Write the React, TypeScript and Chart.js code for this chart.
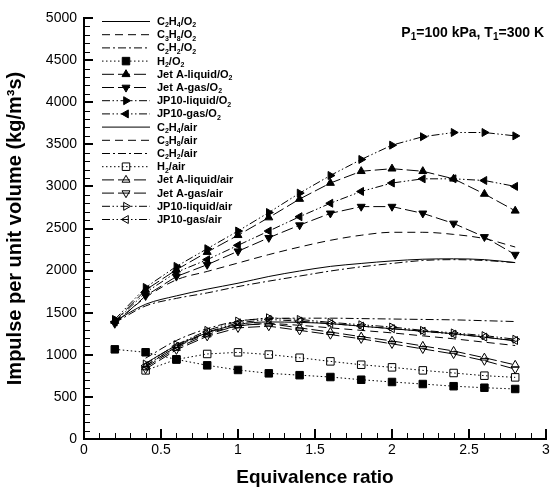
import React, { useEffect, useRef } from 'react';
import { Chart, registerables } from 'chart.js';

Chart.register(...registerables);

const FONT = '"Liberation Sans", Arial, Helvetica, sans-serif';

// Equivalence ratios
const phiO2 = [0.2, 0.4, 0.6, 0.8, 1.0, 1.2, 1.4, 1.6, 1.8, 2.0, 2.2, 2.4, 2.6, 2.8];
const phiAir = [0.4, 0.6, 0.8, 1.0, 1.2, 1.4, 1.6, 1.8, 2.0, 2.2, 2.4, 2.6, 2.8];

// Oxygen mixtures (kg/m^2 s)
const c2h4O2 = [1400, 1600, 1700, 1780, 1850, 1930, 1995, 2050, 2085, 2115, 2135, 2140, 2130, 2095];
const c3h8O2 = [1380, 1680, 1890, 1990, 2090, 2190, 2280, 2360, 2420, 2455, 2455, 2430, 2380, 2280];
const c2h2O2 = [1380, 1580, 1670, 1735, 1810, 1875, 1935, 1995, 2045, 2085, 2120, 2130, 2120, 2095];
const h2O2 = [1065, 1030, 945, 875, 820, 780, 758, 736, 704, 677, 653, 627, 609, 594];
const jetALiqO2 = [1400, 1770, 2010, 2220, 2420, 2630, 2850, 3040, 3180, 3210, 3180, 3090, 2910, 2710];
const jetAGasO2 = [1370, 1700, 1930, 2070, 2230, 2390, 2540, 2680, 2760, 2760, 2680, 2560, 2400, 2190];
const jp10LiqO2 = [1420, 1800, 2050, 2260, 2470, 2690, 2920, 3130, 3320, 3490, 3590, 3640, 3640, 3600];
const jp10GasO2 = [1390, 1740, 1980, 2130, 2300, 2470, 2640, 2800, 2940, 3040, 3090, 3090, 3070, 3000];

// Air mixtures
const c2h4Air = [900, 1110, 1260, 1360, 1390, 1385, 1370, 1340, 1310, 1280, 1250, 1210, 1165];
const c3h8Air = [870, 1090, 1250, 1340, 1370, 1350, 1320, 1290, 1260, 1225, 1190, 1150, 1110];
const c2h2Air = [960, 1170, 1310, 1400, 1430, 1435, 1435, 1430, 1425, 1420, 1415, 1405, 1395];
const h2Air = [815, 945, 1010, 1029, 1003, 965, 922, 882, 851, 815, 784, 752, 732];
const jetALiqAir = [850, 1080, 1240, 1350, 1370, 1320, 1270, 1215, 1165, 1105, 1045, 965, 880];
const jetAGasAir = [830, 1060, 1220, 1320, 1340, 1290, 1240, 1190, 1130, 1070, 1010, 930, 830];
const jp10LiqAir = [890, 1120, 1290, 1400, 1440, 1420, 1385, 1357, 1330, 1290, 1260, 1228, 1185];
const jp10GasAir = [870, 1100, 1270, 1380, 1420, 1400, 1370, 1340, 1310, 1280, 1245, 1210, 1170];

const seriesLabels = [
  'C₂H₄/O₂', 'C₃H₈/O₂', 'C₂H₂/O₂', 'H₂/O₂',
  'Jet A-liquid/O₂', 'Jet A-gas/O₂', 'JP10-liquid/O₂', 'JP10-gas/O₂',
  'C₂H₄/air', 'C₃H₈/air', 'C₂H₂/air', 'H₂/air',
  'Jet A-liquid/air', 'Jet A-gas/air', 'JP10-liquid/air', 'JP10-gas/air',
];
const seriesValues = [
  c2h4O2, c3h8O2, c2h2O2, h2O2, jetALiqO2, jetAGasO2, jp10LiqO2, jp10GasO2,
  c2h4Air, c3h8Air, c2h2Air, h2Air, jetALiqAir, jetAGasAir, jp10LiqAir, jp10GasAir,
];
const seriesX = [
  phiO2, phiO2, phiO2, phiO2, phiO2, phiO2, phiO2, phiO2,
  phiAir, phiAir, phiAir, phiAir, phiAir, phiAir, phiAir, phiAir,
];

const xTickValues = [0, 0.5, 1, 1.5, 2, 2.5, 3];
const yTickValues = [0, 500, 1000, 1500, 2000, 2500, 3000, 3500, 4000, 4500, 5000];

const titleX = 'Equivalence ratio';
const titleY = 'Impulse per unit volume (kg/m³s)';
const annotation = 'P₁=100 kPa, T₁=300 K';

// ---- styles (kept apart from data) ----
const SOLID: number[] = [];
const DASH = [8, 5];
const DASHDOT = [8, 3, 2, 3];
const DOT = [1.5, 2.5];
const LONGDASH = [12, 4];
const DASHDOTDOT = [8, 2.5, 1.5, 2.5, 1.5, 2.5];

type Style = { dash: number[]; marker: string | null; rot: number; r: number; filled: boolean };
const baseStyles: Style[] = [
  { dash: SOLID, marker: null, rot: 0, r: 0, filled: true },
  { dash: DASH, marker: null, rot: 0, r: 0, filled: true },
  { dash: DASHDOT, marker: null, rot: 0, r: 0, filled: true },
  { dash: DOT, marker: 'rect', rot: 0, r: 5.3, filled: true },
  { dash: LONGDASH, marker: 'triangle', rot: 0, r: 4.6, filled: true },
  { dash: LONGDASH, marker: 'triangle', rot: 180, r: 4.6, filled: true },
  { dash: DASHDOTDOT, marker: 'triangle', rot: 90, r: 4.6, filled: true },
  { dash: DASHDOTDOT, marker: 'triangle', rot: 270, r: 4.6, filled: true },
];
const styles: Style[] = [
  ...baseStyles,
  ...baseStyles.map((s) => ({ ...s, filled: false })),
];

const SUBS = '₀₁₂₃₄₅₆₇₈₉';

function drawRich(ctx: CanvasRenderingContext2D, text: string, x: number, y: number, size: number, bold: boolean, align: 'left' | 'right' | 'center') {
  const w8 = bold ? 'bold ' : '';
  const big = `${w8}${size}px ${FONT}`;
  const small = `${w8}${Math.round(size * 0.68)}px ${FONT}`;
  const parts: { t: string; s: boolean }[] = [];
  for (const ch of text) {
    const i = SUBS.indexOf(ch);
    if (i >= 0) parts.push({ t: String(i), s: true });
    else parts.push({ t: ch, s: false });
  }
  let w = 0;
  for (const p of parts) {
    ctx.font = p.s ? small : big;
    w += ctx.measureText(p.t).width;
  }
  let cx = align === 'right' ? x - w : align === 'center' ? x - w / 2 : x;
  ctx.textAlign = 'left';
  ctx.textBaseline = 'alphabetic';
  for (const p of parts) {
    ctx.font = p.s ? small : big;
    ctx.fillText(p.t, cx, p.s ? y + size * 0.22 : y);
    cx += ctx.measureText(p.t).width;
  }
}

function drawMarker(ctx: CanvasRenderingContext2D, st: Style, x: number, y: number) {
  if (!st.marker) return;
  ctx.beginPath();
  if (st.marker === 'rect') {
    const s = st.r * Math.SQRT1_2;
    ctx.rect(x - s, y - s, 2 * s, 2 * s);
  } else {
    let rad = (st.rot * Math.PI) / 180;
    ctx.moveTo(x + Math.sin(rad) * st.r, y - Math.cos(rad) * st.r);
    rad += (2 * Math.PI) / 3;
    ctx.lineTo(x + Math.sin(rad) * st.r, y - Math.cos(rad) * st.r);
    rad += (2 * Math.PI) / 3;
    ctx.lineTo(x + Math.sin(rad) * st.r, y - Math.cos(rad) * st.r);
    ctx.closePath();
  }
  ctx.setLineDash([]);
  ctx.lineWidth = 1;
  ctx.strokeStyle = '#000';
  if (st.filled) {
    ctx.fillStyle = '#000';
    ctx.fill();
  }
  ctx.stroke();
}

const decorPlugin = {
  id: 'decor',
  afterDraw(chart: any) {
    const ctx: CanvasRenderingContext2D = chart.ctx;
    const xs = chart.scales.x;
    const ys = chart.scales.y;
    const area = chart.chartArea;
    ctx.save();
    ctx.strokeStyle = '#000';
    // inward ticks on x axis
    for (let k = 0; k <= 30; k++) {
      const v = k / 10;
      const major = k % 5 === 0;
      const px = Math.round(xs.getPixelForValue(v)) + (major ? 0 : 0.5);
      ctx.beginPath();
      ctx.lineWidth = major ? 2 : 1;
      ctx.moveTo(px, area.bottom);
      ctx.lineTo(px, area.bottom - (major ? 10 : 6));
      ctx.stroke();
    }
    // inward ticks on y axis
    for (let k = 0; k <= 50; k++) {
      const v = k * 100;
      const major = k % 5 === 0;
      const py = Math.round(ys.getPixelForValue(v)) + (major ? 0 : 0.5);
      ctx.beginPath();
      ctx.lineWidth = major ? 2 : 1;
      ctx.moveTo(area.left, py);
      ctx.lineTo(area.left + (major ? 9 : 6), py);
      ctx.stroke();
    }
    // legend
    ctx.fillStyle = '#000';
    for (let i = 0; i < seriesLabels.length; i++) {
      const st = styles[i];
      const cy = 21 + 13.2 * i;
      ctx.beginPath();
      ctx.setLineDash(st.dash);
      ctx.lineWidth = 1;
      ctx.moveTo(102, cy + 0.5);
      ctx.lineTo(150, cy + 0.5);
      ctx.stroke();
      drawMarker(ctx, st, 126, cy + 0.5);
      ctx.fillStyle = '#000';
      drawRich(ctx, seriesLabels[i], 157, cy + 4, 11, true, 'left');
    }
    // annotation
    drawRich(ctx, annotation, 544, 37, 14, true, 'right');
    ctx.restore();
  },
};

export default function App() {
  const ref = useRef<HTMLCanvasElement>(null);
  useEffect(() => {
    const canvas = ref.current;
    if (!canvas) return;
    const datasets = seriesValues.map((vals, i) => {
      const st = styles[i];
      const xsArr = seriesX[i];
      return {
        label: seriesLabels[i],
        data: vals.map((v, j) => ({ x: xsArr[j], y: v })),
        borderColor: '#000',
        borderWidth: 1,
        borderDash: st.dash,
        fill: false,
        cubicInterpolationMode: st.marker ? 'default' : 'monotone',
        pointStyle: st.marker || 'circle',
        pointRotation: st.rot,
        pointRadius: st.marker ? st.r : 0,
        pointBorderWidth: 1,
        pointBorderColor: '#000',
        pointBackgroundColor: st.filled ? '#000' : 'rgba(0,0,0,0)',
      };
    });
    const chart = new Chart(canvas, {
      type: 'line',
      data: { datasets } as any,
      options: {
        responsive: false,
        animation: false,
        events: [],
        layout: { padding: { top: 18, right: 10, left: 0, bottom: 0 } },
        plugins: { legend: { display: false }, tooltip: { enabled: false } },
        scales: {
          x: {
            type: 'linear',
            min: 0,
            max: 3,
            afterBuildTicks: (s: any) => {
              s.ticks = xTickValues.map((v) => ({ value: v }));
            },
            afterFit: (s: any) => {
              s.height = 52;
            },
            ticks: {
              callback: (v: any) => String(v),
              color: '#000',
              font: { family: FONT, size: 14 },
              padding: 3,
              maxRotation: 0,
              autoSkip: false,
            },
            grid: { display: false, drawTicks: false },
            border: { display: true, color: '#000', width: 2 },
            title: {
              display: true,
              text: titleX,
              color: '#000',
              font: { family: FONT, size: 19, weight: 'bold' },
              padding: { top: 0, bottom: 2 },
            },
          },
          y: {
            type: 'linear',
            min: 0,
            max: 5000,
            afterBuildTicks: (s: any) => {
              s.ticks = yTickValues.map((v) => ({ value: v }));
            },
            afterFit: (s: any) => {
              s.width = 84;
            },
            ticks: {
              callback: (v: any) => String(v),
              color: '#000',
              font: { family: FONT, size: 14 },
              padding: 7,
              autoSkip: false,
            },
            grid: { display: false, drawTicks: false },
            border: { display: true, color: '#000', width: 2 },
            title: {
              display: true,
              text: titleY,
              color: '#000',
              font: { family: FONT, size: 20, weight: 'bold' },
              padding: { top: 3, bottom: 0 },
            },
          },
        },
      } as any,
      plugins: [decorPlugin],
    });
    return () => chart.destroy();
  }, []);
  return (
    <div style={{ position: 'absolute', left: 0, top: 0, width: 556, height: 491, background: '#fff' }}>
      <canvas ref={ref} width={556} height={491} style={{ display: 'block' }} />
    </div>
  );
}
